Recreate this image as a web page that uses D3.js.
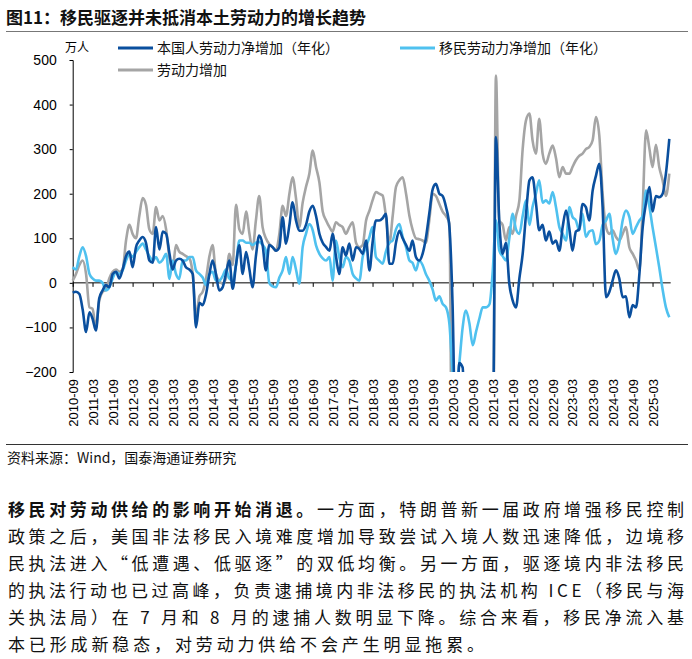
<!DOCTYPE html>
<html><head><meta charset="utf-8">
<script src="https://cdn.jsdelivr.net/npm/d3@7"></script>
<style>body{margin:0;background:#fff}svg{display:block}</style>
</head><body><svg id="c" width="692" height="659"></svg>
<script>
const startMonth = "2010-09";
const native = [-22,-20,-25,-60,-110,-66,-80,-107,-35,-17,-5,-10,20,25,10,30,60,70,35,80,95,103,90,50,45,125,75,115,110,65,30,50,54,50,35,30,20,-100,-45,-50,-25,20,50,20,-17,-10,20,50,-13,40,84,20,69,30,-10,60,106,85,28,85,
80,72,80,147,88,130,181,140,117,117,130,160,173,150,110,90,80,72,110,60,20,80,61,88,50,80,76,65,95,28,90,140,140,145,155,43,43,90,117,100,85,72,95,58,50,65,100,155,210,222,200,195,170,125,-50,-400,-180,-190,-400,-400,
-400,-400,-400,-400,-400,-400,-400,327,140,65,90,-2,-40,-55,10,65,155,230,237,180,118,130,95,115,88,95,72,125,162,120,72,115,120,177,170,140,207,240,267,170,-32,-20,5,28,10,-32,-30,-77,-50,-55,20,125,180,215,160,195,192,200,245,323];
const immigrant = [35,30,60,80,60,20,10,5,5,0,-17,-10,10,24,20,28,50,65,58,70,80,88,75,60,50,58,45,52,65,9,50,20,9,50,50,58,58,28,20,12,-5,20,25,5,5,15,30,10,5,40,95,95,90,90,85,90,92,85,73,0,
-8,-10,12,28,58,20,58,30,-2,80,110,132,118,84,65,55,50,58,5,95,58,35,58,50,20,10,5,58,80,103,125,58,50,43,70,90,95,120,132,103,80,50,45,28,50,40,20,5,-15,-40,-30,-47,-55,-92,-200,-250,-182,-100,-62,-90,
-140,-110,-80,-55,-55,-48,20,140,73,60,50,100,155,120,110,150,185,130,170,200,230,180,185,178,204,170,125,110,95,170,148,140,118,155,103,115,118,87,95,130,140,155,100,65,90,140,162,148,110,125,140,150,207,170,125,80,35,-15,-55,-77];
const labor = [5,20,40,50,20,-55,-58,-100,-40,-20,-15,10,25,30,25,30,95,130,110,100,150,190,175,120,110,170,140,150,120,55,30,85,70,65,60,55,20,-75,-30,-20,10,60,85,20,5,-2,10,65,40,175,120,110,160,110,75,140,195,125,100,87,
80,72,110,173,150,200,237,190,125,180,215,245,297,260,225,160,140,125,115,136,130,125,110,125,136,90,80,85,140,162,185,204,200,196,150,88,150,215,230,237,200,150,120,100,98,95,90,140,200,195,177,160,150,133,-600,-600,-600,-600,-600,-600,
-600,-600,-600,-600,-600,-600,-600,465,140,130,95,125,110,150,185,300,365,380,320,290,368,290,267,290,308,280,237,260,245,245,260,275,285,290,300,305,320,372,330,200,125,110,118,103,95,110,125,80,65,50,28,170,342,300,260,310,260,230,195,245];
const yTicks = [500,400,300,200,100,0,-100,-200];
const seriesNames = ["本国人劳动力净增加（年化）","移民劳动力净增加（年化）","劳动力增加"];
const colors = ["#0a4f9e","#4fc1ef","#a5a5a5"];
const paragraph = [
 ["移民对劳动供给的影响开始消退。","一方面，特朗普新一届政府增强移民控制"],
 ["","政策之后，美国非法移民入境难度增加导致尝试入境人数迅速降低，边境移"],
 ["","民执法进入“低遭遇、低驱逐”的双低均衡。另一方面，驱逐境内非法移民"],
 ["","的执法行动也已过高峰，负责逮捕境内非法移民的执法机构 ICE（移民与海"],
 ["","关执法局）在 7 月和 8 月的逮捕人数明显下降。综合来看，移民净流入基"],
 ["","本已形成新稳态，对劳动力供给不会产生明显拖累。"]
];

const svg = d3.select("#c");
const CJK = "'Noto Sans CJK SC',sans-serif";
const parse = d3.timeParse("%Y-%m");
const t0 = parse(startMonth);
const dates = native.map((_,i)=>d3.timeMonth.offset(t0,i));
const tickDates = d3.range(0,180,6).map(i=>d3.timeMonth.offset(t0,i));
const fmt = d3.timeFormat("%Y-%m");

const x = d3.scaleTime().domain([t0, d3.timeMonth.offset(t0,179)]).range([72.7, 669.3]);
const y = d3.scaleLinear().domain([-200,500]).range([372,60]);

svg.append("text").attr("x",6).attr("y",24).attr("font-family",CJK).attr("font-weight","bold").attr("font-size",17).attr("fill","#111").text("图11：移民驱逐并未抵消本土劳动力的增长趋势");
svg.append("line").attr("x1",6).attr("x2",688).attr("y1",31.5).attr("y2",31.5).attr("stroke","#777").attr("stroke-width",1);

svg.append("defs").append("clipPath").attr("id","clip").append("rect").attr("x",60).attr("y",58).attr("width",620).attr("height",314);

const ya = svg.append("g").attr("transform","translate(72.7,0)").call(d3.axisLeft(y).tickValues(yTicks).tickSize(3).tickSizeOuter(3));
ya.select(".domain").attr("stroke","#000");
ya.selectAll("text").attr("font-family","Arial,'Liberation Sans'").attr("font-size",14).attr("fill","#000").attr("dx",-10);
svg.append("text").attr("x",65).attr("y",52).attr("font-family",CJK).attr("font-size",12).text("万人");

const xa = svg.append("g").attr("transform",`translate(0,${y(0)})`).call(d3.axisBottom(x).tickValues(tickDates).tickSize(4).tickSizeOuter(0).tickFormat(()=>""));
xa.select(".domain").attr("stroke","#000").attr("d",`M72.7,0H670.7`);
svg.append("g").selectAll("text").data(tickDates).join("text")
  .attr("transform",d=>`translate(${x(d)+5},379) rotate(-90)`)
  .attr("text-anchor","end").attr("font-family","Arial,'Liberation Sans'").attr("font-size",13).attr("fill","#000")
  .text(d=>fmt(d));

const line = d3.line().x((d,i)=>x(dates[i])).y(d=>y(d)).curve(d3.curveMonotoneX);
const g = svg.append("g").attr("clip-path","url(#clip)");
[[labor,2],[immigrant,1],[native,0]].forEach(([arr,k])=>{
  g.append("path").attr("d",line(arr)).attr("fill","none").attr("stroke",colors[k]).attr("stroke-width",2.6).attr("stroke-linejoin","round");
});

const leg = [[118,48,0],[400,48,1],[118,70,2]];
leg.forEach(([lx,ly,k])=>{
  svg.append("line").attr("x1",lx).attr("x2",lx+35).attr("y1",ly).attr("y2",ly).attr("stroke",colors[k]).attr("stroke-width",3);
  svg.append("text").attr("x",lx+39).attr("y",ly+5).attr("font-family",CJK).attr("font-size",14).attr("fill","#111").text(seriesNames[k]);
});

svg.append("line").attr("x1",6).attr("x2",688).attr("y1",444.5).attr("y2",444.5).attr("stroke","#333").attr("stroke-width",1);
svg.append("text").attr("x",7).attr("y",463).attr("font-family",CJK).attr("font-size",14).attr("fill","#111").text("资料来源：Wind，国泰海通证券研究");

paragraph.forEach((p,i)=>{
  const ty = 516 + i*27;
  const t = svg.append("text").attr("x",8).attr("y",ty).attr("font-family",CJK).attr("font-size",17).attr("fill","#111");
  t.attr("textLength", i<5 ? 676 : 476).attr("lengthAdjust","spacing");
  if(p[0]) t.append("tspan").attr("font-weight","bold").text(p[0]);
  t.append("tspan").text(p[1]);
});
</script></body></html>
